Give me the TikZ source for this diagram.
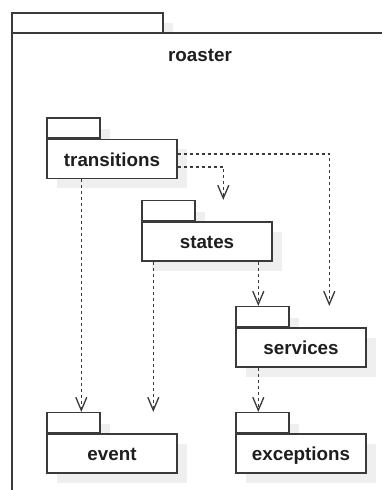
\documentclass[tikz,border=0pt]{standalone}
\usepackage{fontspec}
\setmainfont{Liberation Sans}
\usetikzlibrary{arrows.meta}
\definecolor{linec}{HTML}{3A3A3A}
\definecolor{shadowc}{HTML}{EFEFEF}
\definecolor{textc}{HTML}{1E1E1E}
\tikzset{
  pkgbody/.style={draw=linec, line width=1.4pt, fill=white, inner sep=0pt,
    minimum width=130pt, minimum height=39pt, text height=14pt, text depth=0pt,
    font=\fontsize{18.8}{22}\selectfont\bfseries, text=textc},
  pkgtab/.style={draw=linec, line width=1.4pt, fill=white, inner sep=0pt,
    minimum width=53pt, minimum height=20pt, anchor=south west},
  pkgshadow/.style={fill=shadowc, draw=none},
  dep/.style={draw=linec, line width=1.3pt, dash pattern=on 3pt off 3pt,
    -{Straight Barb[length=13pt,width=11pt,line width=1.3pt]}},
}
\begin{document}
\begin{tikzpicture}[x=1pt,y=-1pt]
\useasboundingbox (0,0) rectangle (382,490);
\clip (0,0) rectangle (382,490);
\fill[white] (0,0) rectangle (382,490);

% outer package: shadow of the tab, then tab and body
\fill[shadowc] (22,23) rectangle (173,43);
\draw[linec, line width=1.4pt, fill=white] (12,13) rectangle (163,33);
\draw[linec, line width=1.4pt, fill=white] (12,33) rectangle (400,520);
\node[font=\fontsize{18.8}{22}\selectfont\bfseries, text=textc, anchor=base] (roaster) at (200,61) {roaster};

% drop shadows of the inner packages
\foreach \x/\y in {47/139, 142/222, 236/328, 47/434, 236/434} {
  \fill[shadowc] (\x+10,\y-10) rectangle (\x+63,\y+10);
  \fill[shadowc] (\x+10,\y+10) rectangle (\x+140,\y+49);
}

% inner packages
\node[pkgbody] (trans) at (112,159) {transitions};
\node[pkgtab] (transT) at (trans.north west) {};
\node[pkgbody] (st) at (207,241.5) {states};
\node[pkgtab] (stT) at (st.north west) {};
\node[pkgbody] (sv) at (301,347.5) {services};
\node[pkgtab] (svT) at (sv.north west) {};
\node[pkgbody] (ev) at (112,453.5) {event};
\node[pkgtab] (evT) at (ev.north west) {};
\node[pkgbody] (ex) at (301,453.5) {exceptions};
\node[pkgtab] (exT) at (ex.north west) {};

% dependencies
\draw[dep] ([xshift=35pt]trans.south west) -- ([xshift=35pt]trans.south west |- evT.north);
\draw[dep] ([xshift=12pt]st.south west) -- ([xshift=12pt]st.south west |- evT.north);
\draw[dep] ([yshift=-8pt]trans.east) -| ([xshift=82pt]st.north west |- stT.north);
\draw[dep] ([yshift=5pt]trans.east) -| ([xshift=94pt]sv.north west |- svT.north);
\draw[dep] ([xshift=117pt]st.south west) -- ([xshift=117pt]st.south west |- svT.north);
\draw[dep] ([xshift=23pt]sv.south west) -- ([xshift=23pt]sv.south west |- exT.north);
\end{tikzpicture}
\end{document}
